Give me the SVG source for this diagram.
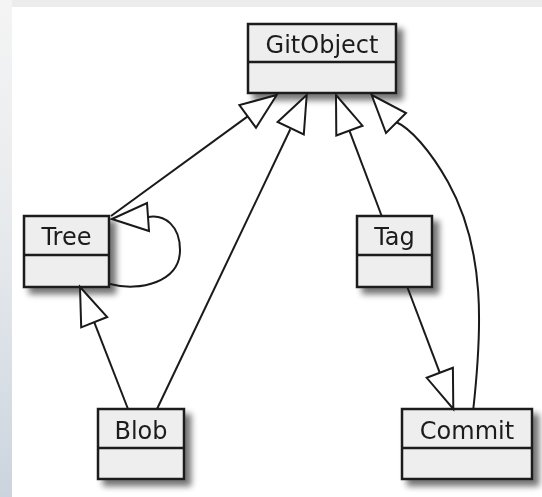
<svg xmlns="http://www.w3.org/2000/svg" width="542" height="497" viewBox="0 0 542 497">
  <defs>
    <linearGradient id="frameLeft" x1="0" y1="0" x2="0" y2="1">
      <stop offset="0" stop-color="#f4f4f4"/>
      <stop offset="0.5" stop-color="#e6e9ec"/>
      <stop offset="1" stop-color="#cbd4de"/>
    </linearGradient>
    <filter id="shadow" x="-20%" y="-20%" width="150%" height="150%">
      <feGaussianBlur in="SourceAlpha" stdDeviation="3"/>
      <feOffset dx="6" dy="6" result="b"/>
      <feComponentTransfer in="b" result="s">
        <feFuncA type="linear" slope="0.55"/>
      </feComponentTransfer>
      <feMerge>
        <feMergeNode in="s"/>
        <feMergeNode in="SourceGraphic"/>
      </feMerge>
    </filter>
  </defs>
  <style>
    .box { fill: #eeeeee; stroke: #1a1a1a; stroke-width: 2.5; }
    .sep { stroke: #1a1a1a; stroke-width: 2.5; }
    .label { font-family: "DejaVu Sans", Verdana, sans-serif; font-size: 24px; fill: #1a1a1a; text-anchor: middle; }
    .edge { fill: none; stroke: #1a1a1a; stroke-width: 2; }
    .head { fill: #ffffff; stroke: #1a1a1a; stroke-width: 2; stroke-linejoin: miter; }
  </style>

  <!-- window frame -->
  <rect x="0" y="0" width="542" height="497" fill="#ffffff"/>
  <rect x="0" y="0" width="542" height="7" fill="#ececec"/>
  <rect x="0" y="0" width="12" height="497" fill="url(#frameLeft)"/>

  <!-- classes -->
  <g id="GitObject" filter="url(#shadow)">
    <rect class="box" x="248" y="24" width="148" height="69"/>
    <line class="sep" x1="248" y1="62" x2="396" y2="62"/>
    <text class="label" x="322" y="53">GitObject</text>
  </g>
  <g id="Tree" filter="url(#shadow)">
    <rect class="box" x="24" y="216" width="85" height="71"/>
    <line class="sep" x1="24" y1="255" x2="109" y2="255"/>
    <text class="label" x="66.5" y="245">Tree</text>
  </g>
  <g id="Tag" filter="url(#shadow)">
    <rect class="box" x="357" y="216" width="75" height="71"/>
    <line class="sep" x1="357" y1="255" x2="432" y2="255"/>
    <text class="label" x="394.5" y="245">Tag</text>
  </g>
  <g id="Blob" filter="url(#shadow)">
    <rect class="box" x="98" y="409" width="86" height="70"/>
    <line class="sep" x1="98" y1="448" x2="184" y2="448"/>
    <text class="label" x="141" y="439">Blob</text>
  </g>
  <g id="Commit" filter="url(#shadow)">
    <rect class="box" x="402" y="409" width="130" height="70"/>
    <line class="sep" x1="402" y1="448" x2="532" y2="448"/>
    <text class="label" x="467" y="439">Commit</text>
  </g>

  <!-- generalization connectors -->
  <g id="connectors">
    <!-- Tree extends GitObject -->
    <line class="edge" x1="111" y1="216" x2="247.7" y2="116.4"/>
    <polygon class="head" points="276.7,95 256,127.7 239.4,105.1"/>
    <!-- Blob extends GitObject -->
    <line class="edge" x1="157" y1="409" x2="290.3" y2="129.3"/>
    <polygon class="head" points="306.7,95 303.8,134.5 277.6,122"/>
    <!-- Tag extends GitObject -->
    <line class="edge" x1="381.7" y1="216" x2="349.4" y2="130.6"/>
    <polygon class="head" points="336,95 362.5,125.7 336.3,135.5"/>
    <!-- Commit extends GitObject -->
    <path class="edge" d="M473.3,409 C482,330 486,250 448,182 C430,150 410,128 396,122"/>
    <polygon class="head" points="371.7,95 406,113 386,133"/>
    <!-- Commit extends Tag -->
    <line class="edge" x1="407.3" y1="287" x2="439.8" y2="372.8"/>
    <polygon class="head" points="453.3,409 452.9,367.8 426.7,377.8"/>
    <!-- Blob extends Tree -->
    <line class="edge" x1="128" y1="409" x2="94.2" y2="322.2"/>
    <polygon class="head" points="80,287 107.2,317 81.2,327.4"/>
    <!-- Tree extends Tree (self) -->
    <path class="edge" d="M110,284 C140,292 180,282 180,250 C180,226 165,214 148,217"/>
    <polygon class="head" points="112,219 147,203 149,231"/>
  </g>
</svg>
